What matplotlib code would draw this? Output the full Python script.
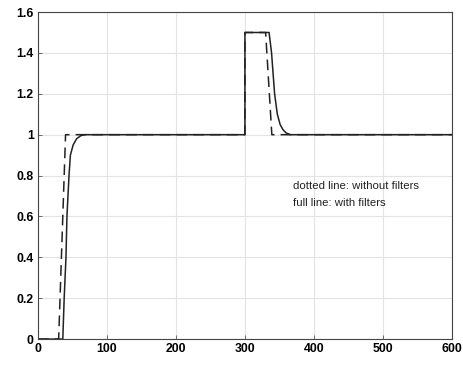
import matplotlib
matplotlib.use('Agg')
import matplotlib.pyplot as plt

# without filters (dashed)
t_raw = [0, 30, 40, 300, 300, 330, 339, 600]
y_raw = [0, 0, 1, 1, 1.5, 1.5, 1.0, 1.0]

# with filters (solid)
t_filt = [0, 36, 38, 40.6, 42, 45, 47, 51, 56, 62, 68, 80, 300, 300, 335,
          338.6, 343, 347, 351, 355, 360, 366, 600]
y_filt = [0, 0, 0.2, 0.4, 0.6, 0.8, 0.9, 0.95, 0.98, 0.995, 1.0, 1.0, 1.0, 1.5, 1.5,
          1.4, 1.2, 1.1, 1.05, 1.025, 1.008, 1.0, 1.0]

xticks = [0, 100, 200, 300, 400, 500, 600]
yticks = [0, 0.2, 0.4, 0.6, 0.8, 1, 1.2, 1.4, 1.6]
ylabels = ['0', '0.2', '0.4', '0.6', '0.8', '1', '1.2', '1.4', '1.6']

plt.rcParams['font.family'] = ['Liberation Sans', 'DejaVu Sans']

fig = plt.figure(figsize=(4.63, 3.65), dpi=100)
ax = fig.add_axes([0.082, 0.071, 0.894, 0.896])

ax.plot(t_filt, y_filt, color='#222222', lw=1.1)
ax.plot(t_raw, y_raw, color='#222222', lw=1.1, dashes=(7, 4))

ax.set_xlim(0, 600)
ax.set_ylim(0, 1.6)
ax.set_xticks(xticks)
ax.set_xticklabels([str(x) for x in xticks], fontweight='bold', fontsize=8.8)
ax.set_yticks(yticks)
ax.set_yticklabels(ylabels, fontweight='bold', fontsize=8.8)
ax.tick_params(direction='in', length=3, width=0.6, color='#555555', pad=3)
ax.grid(True, color='#e3e3e3', lw=0.8)
ax.set_axisbelow(True)
for s in ax.spines.values():
    s.set_color('#444444')
    s.set_linewidth(0.8)

ax.text(369, 0.75, 'dotted line: without filters', fontsize=8.2, va='center', color='#222222')
ax.text(369, 0.665, 'full line: with filters', fontsize=8.2, va='center', color='#222222')

fig.savefig('out.png', dpi=100)
